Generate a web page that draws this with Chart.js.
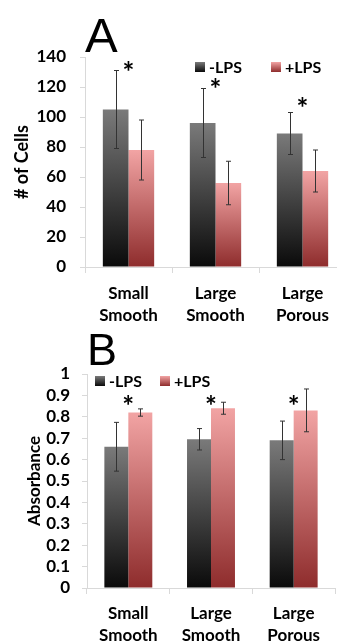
<!DOCTYPE html>
<html lang="en">
<head>
    <meta charset="UTF-8">
    <title>LPS cells and absorbance</title>
    <script src="https://cdn.jsdelivr.net/npm/chart.js"></script>
    <style>
        html, body {
            margin: 0;
            padding: 0;
            background: #fff;
            overflow: hidden;
            width: 337px;
            height: 643px;
        }
        #cellsChart {
            position: absolute;
            left: 0;
            top: 0;
        }
        #absChart {
            position: absolute;
            left: 0;
            top: 320px;
        }
    </style>
</head>
<body>
    <canvas id="cellsChart" width="350" height="335"></canvas>
    <canvas id="absChart" width="337" height="323"></canvas>

    <script>
        // data
        const categories = [['Small', 'Smooth'], ['Large', 'Smooth'], ['Large', 'Porous']];
        const seriesNames = ['-LPS', '+LPS'];

        const cellsMinus = [105, 96, 89];
        const cellsMinusErr = [26, 23, 14];
        const cellsPlus = [78, 56, 64];
        const cellsPlusErr = [20, 14.5, 14];
        const cellsStars = [134, 122.5, 110];

        const absMinus = [0.66, 0.695, 0.69];
        const absMinusErr = [0.114, 0.05, 0.09];
        const absPlus = [0.82, 0.84, 0.83];
        const absPlusErr = [0.017, 0.028, 0.1];
        const absStars = [0.88, 0.88, 0.88];

        const DARK = ['#7a7a7a', '#0a0a0a'];
        const PINK = ['#f2a4a4', '#8e2c2c'];
        const AXIS = '#d9d9d9';

        Chart.defaults.font.family = 'Lato';
        Chart.defaults.font.weight = 'bold';
        Chart.defaults.color = '#000';

        // vertical gradient over each bar
        function barGradient(colors) {
            return function (context) {
                const chart = context.chart;
                if (!chart.chartArea || context.raw === undefined) return colors[1];
                const y = chart.scales.y;
                const g = chart.ctx.createLinearGradient(0, y.getPixelForValue(context.raw), 0, y.getPixelForValue(0));
                g.addColorStop(0, colors[0]);
                g.addColorStop(1, colors[1]);
                return g;
            };
        }

        const errorBars = {
            id: 'errorBars',
            afterDatasetsDraw(chart, args, opts) {
                const ctx = chart.ctx;
                const y = chart.scales.y;
                ctx.save();
                ctx.strokeStyle = '#333';
                ctx.lineWidth = 1;
                chart.data.datasets.forEach((ds, i) => {
                    const meta = chart.getDatasetMeta(i);
                    meta.data.forEach((bar, j) => {
                        const v = ds.data[j], e = ds.errors[j];
                        const x = Math.round(bar.x) + 0.5;
                        const y1 = y.getPixelForValue(v + e);
                        const y2 = y.getPixelForValue(v - e);
                        ctx.beginPath();
                        ctx.moveTo(x, y1); ctx.lineTo(x, y2);
                        ctx.moveTo(x - 2.5, y1); ctx.lineTo(x + 2.5, y1);
                        ctx.moveTo(x - 2.5, y2); ctx.lineTo(x + 2.5, y2);
                        ctx.stroke();
                    });
                });
                ctx.restore();
            }
        };

        const annotations = {
            id: 'annotations',
            afterDraw(chart, args, opts) {
                const ctx = chart.ctx;
                const xs = chart.scales.x, ys = chart.scales.y;
                ctx.save();

                // significance stars
                ctx.fillStyle = '#000';
                ctx.font = 'bold 28px Lato';
                ctx.textAlign = 'left';
                ctx.textBaseline = 'alphabetic';
                const m = ctx.measureText('*');
                opts.stars.forEach((v, j) => {
                    const cx = xs.getPixelForValue(j);
                    const cy = ys.getPixelForValue(v);
                    const w = m.actualBoundingBoxRight + m.actualBoundingBoxLeft;
                    ctx.fillText('*', cx - w / 2 + m.actualBoundingBoxLeft,
                        cy + (m.actualBoundingBoxAscent - m.actualBoundingBoxDescent) / 2);
                });

                // legend
                ctx.font = 'bold 16px Lato';
                ctx.textBaseline = 'middle';
                opts.legend.forEach((item, i) => {
                    const g = ctx.createLinearGradient(0, item.y, 0, item.y + 10);
                    g.addColorStop(0, item.colors[0]);
                    g.addColorStop(1, item.colors[1]);
                    ctx.fillStyle = g;
                    ctx.fillRect(item.x, item.y, 10, 10);
                    ctx.fillStyle = '#000';
                    ctx.fillText(seriesNames[i], item.x + 14, item.y + 5.5);
                });

                // panel letter
                ctx.font = opts.letter.size + 'px "Liberation Sans"';
                ctx.textBaseline = 'alphabetic';
                ctx.fillText(opts.letter.text, opts.letter.x, opts.letter.y);
                ctx.restore();
            }
        };

        function makeChart(id, cfg) {
            return new Chart(document.getElementById(id), {
                type: 'bar',
                data: {
                    labels: categories,
                    datasets: [{
                        label: seriesNames[0],
                        data: cfg.minus,
                        errors: cfg.minusErr,
                        backgroundColor: barGradient(DARK),
                        categoryPercentage: cfg.catPct,
                        barPercentage: 1
                    }, {
                        label: seriesNames[1],
                        data: cfg.plus,
                        errors: cfg.plusErr,
                        backgroundColor: barGradient(PINK),
                        categoryPercentage: cfg.catPct,
                        barPercentage: 1
                    }]
                },
                options: {
                    responsive: false,
                    animation: false,
                    layout: { padding: cfg.padding },
                    plugins: {
                        legend: { display: false },
                        tooltip: { enabled: false },
                        annotations: { stars: cfg.stars, legend: cfg.legend, letter: cfg.letter }
                    },
                    scales: {
                        x: {
                            grid: { offset: true, drawOnChartArea: false, tickLength: 6, color: AXIS },
                            border: { color: AXIS },
                            ticks: { font: { size: 17, weight: 'bold', lineHeight: 1.3 }, padding: cfg.xPad, maxRotation: 0 },
                            afterFit(scale) { scale.height = cfg.xHeight; }
                        },
                        y: {
                            min: 0,
                            max: cfg.max,
                            ticks: {
                                stepSize: cfg.step,
                                autoSkip: false,
                                font: { size: 17, weight: 'bold' },
                                padding: cfg.tickPad,
                                callback: v => String(Math.round(v * 10) / 10)
                            },
                            grid: { drawOnChartArea: false, tickLength: 5, color: AXIS },
                            border: { color: AXIS },
                            title: { display: true, text: cfg.title, padding: 0, font: { size: cfg.titleSize, weight: 'bold' } },
                            afterFit(scale) { scale.width = cfg.yWidth; }
                        }
                    }
                },
                plugins: [errorBars, annotations]
            });
        }

        makeChart('cellsChart', {
            minus: cellsMinus, minusErr: cellsMinusErr,
            plus: cellsPlus, plusErr: cellsPlusErr,
            stars: cellsStars,
            max: 140, step: 20, tickPad: 14, xPad: 9,
            title: '# of Cells', titleSize: 18,
            catPct: 0.59,
            padding: { left: 11, top: 57, right: 4, bottom: 0 },
            yWidth: 74, xHeight: 68,
            legend: [{ x: 195, y: 62, colors: DARK }, { x: 271, y: 62, colors: PINK }],
            letter: { text: 'A', size: 49, x: 85, y: 52 }
        });

        makeChart('absChart', {
            minus: absMinus, minusErr: absMinusErr,
            plus: absPlus, plusErr: absPlusErr,
            stars: absStars,
            max: 1, step: 0.1, tickPad: 12, xPad: 8,
            title: 'Absorbance', titleSize: 17,
            catPct: 0.58,
            padding: { left: 24, top: 54, right: 2, bottom: 0 },
            yWidth: 63, xHeight: 55,
            legend: [{ x: 95, y: 56, colors: DARK }, { x: 160, y: 56, colors: PINK }],
            letter: { text: 'B', size: 45, x: 87, y: 45 }
        });
    </script>
</body>
</html>
